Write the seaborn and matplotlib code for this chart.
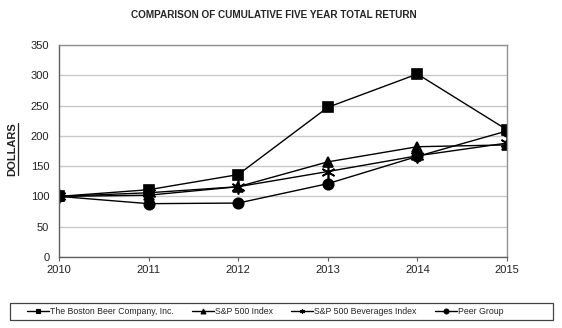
import matplotlib
matplotlib.use("Agg")
import matplotlib.pyplot as plt
import seaborn as sns
import pandas as pd
from matplotlib.lines import Line2D
from matplotlib.patches import Rectangle

years = [2010, 2011, 2012, 2013, 2014, 2015]
boston = [100, 111, 136, 247, 302, 210]
sp500 = [100, 102, 116, 157, 182, 185]
beverages = [100, 106, 116, 141, 167, 188]
peer = [100, 88, 89, 121, 166, 208]
series_names = ["The Boston Beer Company, Inc.", "S&P 500 Index",
                "S&P 500 Beverages Index", "Peer Group"]
yticks = [0, 50, 100, 150, 200, 250, 300, 350]

sns.set_theme(style="white")
plt.rcParams['font.family'] = ['Liberation Sans', 'DejaVu Sans']

rows = []
for name, vals in zip(series_names, [boston, sp500, beverages, peer]):
    for y, v in zip(years, vals):
        rows.append({"Year": y, "Value": v, "Series": name})
df = pd.DataFrame(rows)

fig = plt.figure(figsize=(5.62, 3.28), dpi=100)
ax = fig.add_axes([0.105, 0.2165, 0.797, 0.6465])

markers = {series_names[0]: "s", series_names[1]: "^",
           series_names[2]: (6, 2, 0), series_names[3]: "o"}
sizes = {series_names[0]: 6.5, series_names[1]: 7.5, series_names[2]: 10, series_names[3]: 7.5}
for name in series_names:
    sub = df[df["Series"] == name]
    sns.lineplot(data=sub, x="Year", y="Value", ax=ax, color="black",
                 marker=markers[name], markersize=sizes[name],
                 markeredgecolor="black", markerfacecolor="black",
                 markeredgewidth=1.2, linewidth=1.0, legend=False)

ax.set_xlim(2010, 2015)
ax.set_ylim(0, 350)
ax.set_yticks(yticks)
ax.set_xticks(years)
ax.set_xlabel("")
ax.set_ylabel("")
ax.yaxis.grid(True, color="#c8c8c8", linewidth=1.0)
ax.set_axisbelow(True)
for s in ax.spines.values():
    s.set_color("#909090")
    s.set_linewidth(1.0)
ax.spines["bottom"].set_color("#606060")
ax.spines["left"].set_color("#606060")
ax.tick_params(axis="both", labelsize=8, colors="#222222", length=3,
               width=0.8, direction="out", pad=3)
ax.tick_params(axis="y", length=0, pad=7)
ax.tick_params(axis="x", bottom=True, color="#606060")

fig.text(273.5 / 562, 0.955, "COMPARISON OF CUMULATIVE FIVE YEAR TOTAL RETURN",
         ha="center", va="center", fontsize=7.2, fontweight="bold")
fig.text(0.022, 0.545, "DOLLARS", rotation=90, ha="center", va="center",
         fontsize=8, fontweight="bold", color="#222222")
fig.add_artist(Line2D([0.032, 0.032], [0.465, 0.626], transform=fig.transFigure,
                      color="#222222", linewidth=0.9))

# legend frame drawn separately
fig.add_artist(Rectangle((10 / 562, 1 - 320 / 328), 543 / 562, 17 / 328,
                         transform=fig.transFigure, fill=False,
                         edgecolor="#444444", linewidth=0.9))
handles = [Line2D([], [], color="black", marker=markers[n], markersize=3.5,
                  markeredgewidth=0.8, linewidth=1.0) for n in series_names]
leg = fig.legend(handles, series_names, loc="center", ncol=4,
                 bbox_to_anchor=(265 / 562, 1 - 311.5 / 328),
                 fontsize=6.3, frameon=False,
                 handlelength=2.5, columnspacing=2.07,
                 handletextpad=0.15, borderpad=0, borderaxespad=0)

fig.savefig("out.png", dpi=100)
